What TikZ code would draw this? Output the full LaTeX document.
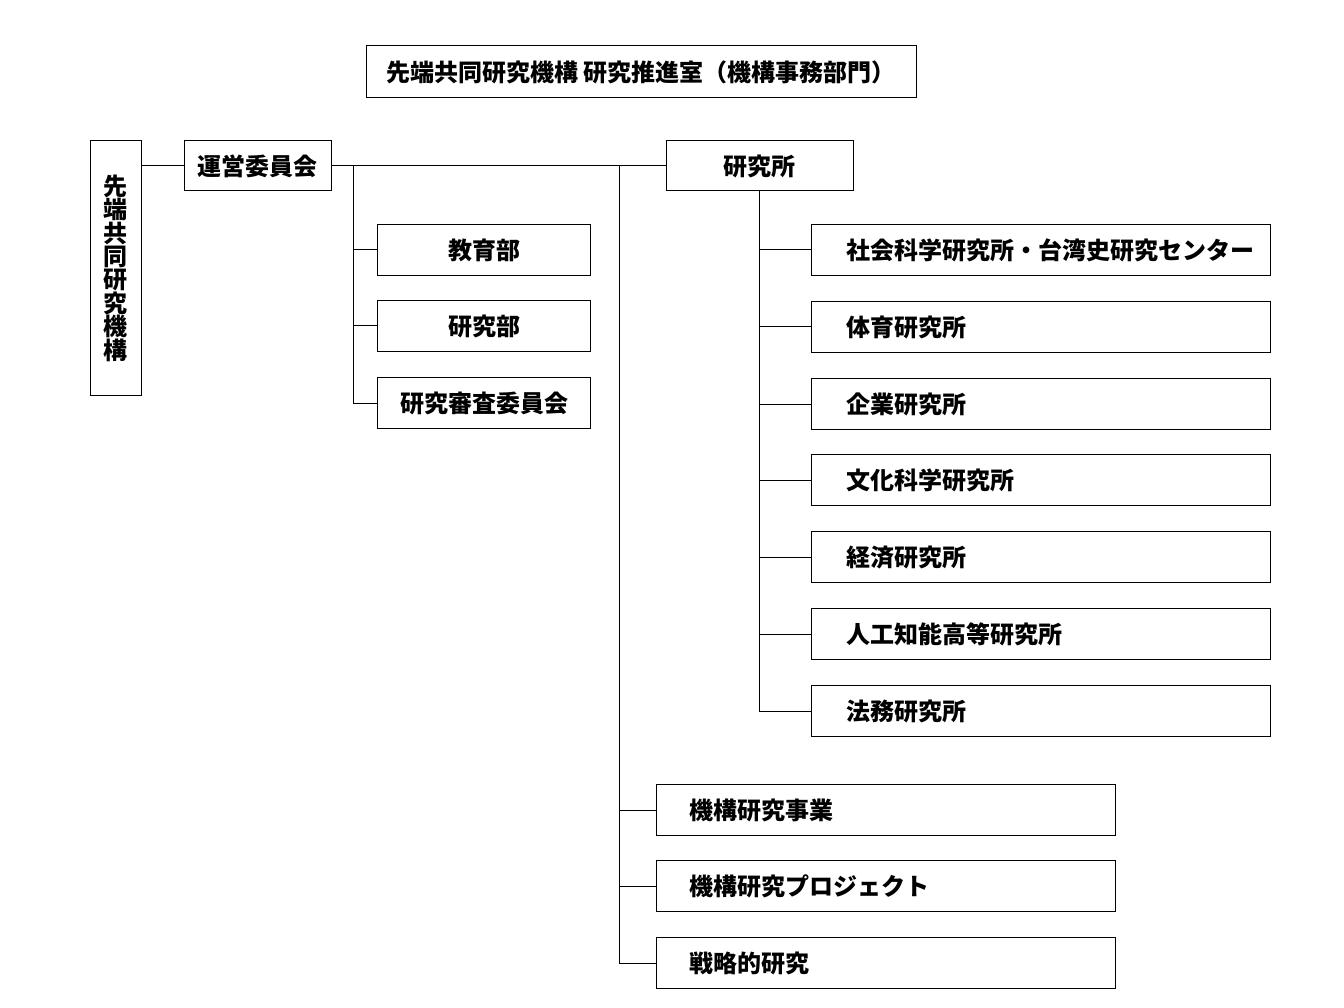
\documentclass[tikz,border=0pt]{standalone}
\usepackage{fontspec}
\setmainfont{Noto Sans CJK JP}
\usetikzlibrary{positioning}

\tikzset{
  unit/.style={draw, line width=1pt, minimum height=51pt, inner sep=0pt,
    font=\fontsize{24}{23.4}\selectfont\bfseries},
  midbox/.style={unit, anchor=west, minimum width=213pt},
  wide/.style={unit, anchor=west, inner xsep=#1, text width=459pt-2*#1, align=left},
  link/.style={line width=1pt},
}

\begin{document}
\begin{tikzpicture}[x=1pt, y=-1pt]
\useasboundingbox (0,0) rectangle (1344,1008);

% top and root
\node[unit, minimum width=550pt, minimum height=52pt] (office) at (641,72) {先端共同研究機構 研究推進室（機構事務部門）};
\node[unit, minimum width=51pt, minimum height=254pt, align=center] (org) at (115.5,268) {先\\端\\共\\同\\研\\究\\機\\構};
\node[unit, minimum width=147pt, minimum height=50pt] (council) at (257.5,166) {運営委員会};
\node[unit, minimum width=187pt, minimum height=50pt] (inst) at (759.5,166) {研究所};

\draw[link] (org.east |- council) -- (council.west);
\draw[link] (council) -- (inst);

% departments under the council
\coordinate (dep) at (353,166);
\foreach \n/\y/\t in {edu/250/教育部, res/326/研究部, rev/403/研究審査委員会} {
  \node[midbox] (\n) at (377,\y) {\t};
  \draw[link] (dep |- \n.west) -- (\n.west);
}
\draw[link] (dep) |- (rev.west);

% institutes
\foreach \n/\y/\t in {
    soc/250/社会科学研究所・台湾史研究センター,
    pe/327/体育研究所,
    biz/404/企業研究所,
    cult/480/文化科学研究所,
    econ/557/経済研究所,
    ai/634/人工知能高等研究所,
    law/711/法務研究所
} {
  \node[wide=35pt] (\n) at (811,\y) {\t};
  \draw[link] (inst.south |- \n.west) -- (\n.west);
}
\draw[link] (inst.south) |- (law.west);

% organisation projects
\coordinate (prj) at (619,166);
\foreach \n/\y/\t in {work/810/機構研究事業, proj/886/機構研究プロジェクト, strat/963/戦略的研究} {
  \node[wide=33pt] (\n) at (656,\y) {\t};
  \draw[link] (prj |- \n.west) -- (\n.west);
}
\draw[link] (prj) |- (strat.west);

\end{tikzpicture}
\end{document}
